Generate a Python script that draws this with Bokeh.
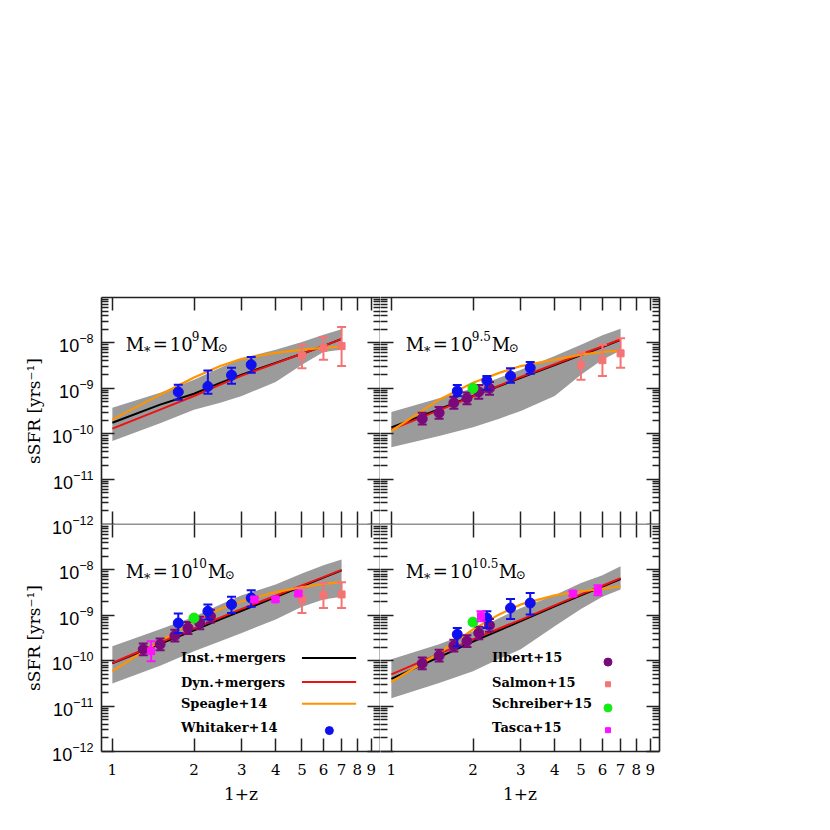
from bokeh.plotting import figure
from bokeh.layouts import gridplot
from bokeh.models import LogAxis, FixedTicker, Label, PrintfTickFormatter, LogTickFormatter
from bokeh.embed import file_html
from bokeh.resources import INLINE

# ---------------- data (log10 sSFR [yr^-1]) ----------------
x_ticks = [1, 2, 3, 4, 5, 6, 7, 8, 9]
x_tick_labels = ["1", "2", "3", "4", "5", "6", "7", "8", "9"]
y_ticks = [1e-12, 1e-11, 1e-10, 1e-9, 1e-8]

x_model = [1.0, 1.5, 2.0, 2.5, 3.0, 4.0, 5.0, 6.0, 7.0]

m9_band_lo = [-10.16, -9.77, -9.47, -9.32, -9.17, -8.86, -8.48, -8.20, -8.15]
m9_band_hi = [-9.43, -9.10, -8.81, -8.55, -8.34, -8.15, -7.98, -7.82, -7.70]
m9_inst = [-9.76, -9.36, -9.12, -8.88, -8.70, -8.44, -8.24, -8.07, -7.91]
m9_dyn = [-9.89, -9.47, -9.17, -8.92, -8.72, -8.45, -8.24, -8.07, -7.91]
m9_speagle = [-9.69, -9.14, -8.76, -8.51, -8.35, -8.22, -8.15, -8.11, -8.08]

m95_band_lo = [-10.30, -10.05, -9.86, -9.67, -9.50, -9.17, -8.70, -8.37, -8.17]
m95_band_hi = [-9.52, -9.22, -9.00, -8.77, -8.59, -8.29, -8.04, -7.83, -7.69]
m95_inst = [-9.86, -9.46, -9.17, -8.95, -8.77, -8.49, -8.27, -8.09, -7.93]
m95_dyn = [-9.91, -9.48, -9.18, -8.94, -8.75, -8.47, -8.25, -8.08, -7.92]
m95_speagle = [-9.94, -9.25, -8.88, -8.66, -8.51, -8.37, -8.26, -8.20, -8.17]

m10_band_lo = [-10.50, -10.11, -9.79, -9.57, -9.39, -9.09, -8.81, -8.65, -8.59]
m10_band_hi = [-9.68, -9.31, -9.03, -8.76, -8.56, -8.32, -8.08, -7.90, -7.77]
m10_inst = [-10.06, -9.63, -9.33, -9.09, -8.90, -8.60, -8.36, -8.17, -8.01]
m10_dyn = [-10.05, -9.60, -9.29, -9.05, -8.86, -8.57, -8.34, -8.16, -8.00]
m10_speagle = [-10.23, -9.57, -9.13, -8.86, -8.69, -8.49, -8.38, -8.31, -8.27]

m105_band_lo = [-10.83, -10.49, -10.23, -9.96, -9.75, -9.24, -8.86, -8.59, -8.43]
m105_band_hi = [-9.97, -9.64, -9.35, -9.06, -8.84, -8.56, -8.29, -8.12, -7.92]
m105_inst = [-10.40, -9.92, -9.58, -9.33, -9.13, -8.80, -8.56, -8.37, -8.20]
m105_dyn = [-10.30, -9.85, -9.53, -9.29, -9.10, -8.78, -8.54, -8.35, -8.18]
m105_speagle = [-10.47, -9.83, -9.31, -8.98, -8.76, -8.56, -8.47, -8.42, -8.36]

# Whitaker+14
whitaker_x = [1.75, 2.25, 2.75, 3.25]
m9_whitaker = [-9.08, -8.96, -8.71, -8.48]
m9_whitaker_lo = [-9.25, -9.12, -8.90, -8.66]
m9_whitaker_hi = [-8.92, -8.61, -8.55, -8.31]
m95_whitaker = [-9.06, -8.83, -8.73, -8.55]
m95_whitaker_lo = [-9.17, -9.03, -8.88, -8.68]
m95_whitaker_hi = [-8.93, -8.73, -8.56, -8.42]
m10_whitaker = [-9.17, -8.91, -8.76, -8.62]
m10_whitaker_lo = [-9.39, -9.09, -8.95, -8.81]
m10_whitaker_hi = [-8.96, -8.76, -8.59, -8.45]
m105_whitaker = [-9.42, -9.06, -8.84, -8.73]
m105_whitaker_lo = [-9.68, -9.28, -9.08, -8.98]
m105_whitaker_hi = [-9.28, -8.91, -8.64, -8.51]

# Salmon+15
salmon_x = [5.0, 6.0, 7.0]
m9_salmon = [-8.28, -8.11, -8.07]
m9_salmon_lo = [-8.56, -8.37, -8.51]
m9_salmon_hi = [-8.04, -7.87, -7.65]
m95_salmon = [-8.49, -8.38, -8.23]
m95_salmon_lo = [-8.81, -8.73, -8.55]
m95_salmon_hi = [-8.20, -8.04, -7.90]
m10_salmon = [-8.65, -8.56, -8.54]
m10_salmon_lo = [-8.95, -8.84, -8.84]
m10_salmon_hi = [-8.40, -8.29, -8.27]

# Ilbert+15
ilbert_x = [1.3, 1.5, 1.7, 1.9, 2.1, 2.3]
m95_ilbert = [-9.67, -9.54, -9.32, -9.22, -9.08, -9.00]
m95_ilbert_err = [0.13, 0.13, 0.13, 0.13, 0.15, 0.14]
m10_ilbert = [-9.75, -9.64, -9.45, -9.28, -9.17, -9.02]
m10_ilbert_err = [0.13, 0.13, 0.13, 0.13, 0.14, 0.14]
m105_ilbert = [-10.06, -9.89, -9.67, -9.57, -9.39, -9.22]
m105_ilbert_err = [0.13, 0.13, 0.13, 0.13, 0.14, 0.14]

# Schreiber+15
schreiber_x = [2.0]
m95_schreiber = [-9.00]
m10_schreiber = [-9.06]
m105_schreiber = [-9.15]

# Tasca+15
m10_tasca_x = [1.39, 3.34, 3.99, 4.85]
m10_tasca = [-9.79, -8.65, -8.65, -8.52]
m10_tasca_err = [0.22, 0.04, 0.04, 0.04]
m105_tasca_x = [2.14, 4.67, 5.78]
m105_tasca = [-9.02, -8.52, -8.45]
m105_tasca_err = [0.11, 0.05, 0.11]

# ---------------- styles ----------------
C_BAND = "#9b9b9b"
C_INST = "#000000"
C_DYN = "#ee1111"
C_SPEAGLE = "#ff9400"
C_WHIT = "#1010ee"
C_ILB = "#7a0a7a"
C_SAL = "#f47474"
C_SCH = "#11ee11"
C_TAS = "#ff11ff"
SERIF = "DejaVu Serif"
SANS = "Liberation Sans"
OVERLAP = 16  # px the lower row is pulled up so the shared 10^-12 label is not cut


def lin(v):
    return [10.0 ** a for a in v]


def style_axis(ax, labeled, is_y, hide_line=False):
    ax.axis_line_color = "#222222"
    ax.axis_line_width = 1.6
    if hide_line:
        ax.axis_line_alpha = 0
    ax.major_tick_line_color = "#222222"
    ax.major_tick_line_width = 1.5
    ax.minor_tick_line_color = "#222222"
    ax.minor_tick_line_width = 1.3
    ax.major_tick_in = 13
    ax.major_tick_out = 0
    ax.minor_tick_in = 7 if is_y else 0
    ax.minor_tick_out = 0
    if labeled:
        ax.major_label_text_color = "black"
        if is_y:
            ax.major_label_text_font = SANS
            ax.major_label_text_font_size = "18px"
            ax.major_label_standoff = 8
        else:
            ax.major_label_text_font = SERIF
            ax.major_label_text_font_size = "15px"
            ax.major_label_standoff = 12
        ax.axis_label_text_font = SERIF
        ax.axis_label_text_font_size = "17px"
        ax.axis_label_text_font_style = "normal"
        ax.axis_label_text_color = "black"
    else:
        ax.major_label_text_font_size = "0px"
        ax.major_label_standoff = 0
        ax.axis_label = None


def make_x_axis(labeled, hide_line=False):
    ax = LogAxis(ticker=FixedTicker(ticks=x_ticks, minor_ticks=[]),
                 formatter=PrintfTickFormatter(format="%d"))
    if labeled:
        ax.major_label_overrides = {t: s for t, s in zip(x_ticks, x_tick_labels)}
    style_axis(ax, labeled, False, hide_line)
    return ax


def make_y_axis(labeled, hide_line=False):
    minor = [m * t for t in y_ticks for m in (2, 3, 4, 5, 6, 7, 8, 9)]
    fmt = LogTickFormatter() if labeled else PrintfTickFormatter(format="%d")
    ax = LogAxis(ticker=FixedTicker(ticks=y_ticks, minor_ticks=minor), formatter=fmt)
    style_axis(ax, labeled, True, hide_line)
    return ax


def errbar(p, x, y, lo, hi, color, cap=9):
    p.segment(x0=x, y0=lin(lo), x1=x, y1=lin(hi), line_color=color, line_width=2)
    p.scatter(x, lin(lo), marker="dash", size=cap, line_color=color, line_width=2)
    p.scatter(x, lin(hi), marker="dash", size=cap, line_color=color, line_width=2)


def title(p, x0, expo):
    y0 = 10 ** -8.03
    sup_w = {"9": 8, "9.5": 19, "10": 15, "10.5": 26}[expo]
    pieces = [
        ("M", 0, 0, 18),
        ("\u2217", 17, -4, 13),
        ("=", 27, 0, 18),
        ("10", 44, 0, 18),
        (expo, 66, 8, 12),
        ("M", 67 + sup_w, 0, 18),
        ("\u2299", 84 + sup_w, -4, 12),
    ]
    for txt, dx, dy, fs in pieces:
        p.add_layout(Label(x=x0, y=y0, x_offset=dx, y_offset=dy, text=txt,
                           text_font=SERIF, text_font_size=f"{fs}px",
                           text_color="black", text_baseline="alphabetic",
                           text_align="left"))


def panel(col, row, band_lo, band_hi, inst, dyn, speagle, whit, whit_lo, whit_hi,
          expo, salmon=None, ilbert=None, schreiber=None, tasca=None):
    kw = dict(x_axis_type="log", y_axis_type="log", x_axis_location=None, y_axis_location=None,
              x_range=(0.912, 9.74), y_range=(0.999e-12, 1.0e-7),
              frame_width=279, frame_height=227, output_backend="svg",
              toolbar_location=None, min_border=0)
    if col == 0:
        kw["min_border_left"] = 101
    else:
        kw["min_border_right"] = 140
    if row == 0:
        kw["min_border_top"] = 297
        kw["min_border_bottom"] = OVERLAP
    else:
        kw["min_border_bottom"] = 55
        kw["styles"] = {"position": "relative", "top": f"-{OVERLAP}px"}
    p = figure(**kw)
    p.outline_line_color = None
    p.background_fill_color = "white"
    p.border_fill_color = "white" if row == 0 else None
    p.xgrid.grid_line_color = None
    p.ygrid.grid_line_color = None

    yl = make_y_axis(col == 0, hide_line=(col == 1))
    if col == 0:
        yl.axis_label = "sSFR [yrs\u207b\u00b9]"
    p.add_layout(yl, "left")
    p.add_layout(make_y_axis(False), "right")
    xb = make_x_axis(row == 1)
    if row == 1:
        xb.axis_label = "1+z"
        xb.axis_label_standoff = 6
    p.add_layout(xb, "below")
    p.add_layout(make_x_axis(False, hide_line=(row == 1)), "above")

    p.varea(x=x_model, y1=lin(band_lo), y2=lin(band_hi), fill_color=C_BAND, fill_alpha=1.0)
    p.line(x_model, lin(inst), line_color=C_INST, line_width=2)
    p.line(x_model, lin(dyn), line_color=C_DYN, line_width=2)
    p.line(x_model, lin(speagle), line_color=C_SPEAGLE, line_width=2.2)

    if ilbert is not None:
        v, e = ilbert
        errbar(p, ilbert_x, v, [a - b for a, b in zip(v, e)], [a + b for a, b in zip(v, e)], C_ILB)
        p.scatter(ilbert_x, lin(v), marker="circle", size=10, fill_color=C_ILB, line_color=C_ILB)
    errbar(p, whitaker_x, whit, whit_lo, whit_hi, C_WHIT)
    p.scatter(whitaker_x, lin(whit), marker="circle", size=10, fill_color=C_WHIT, line_color=C_WHIT)
    if salmon is not None:
        v, lo, hi = salmon
        errbar(p, salmon_x, v, lo, hi, C_SAL)
        p.scatter(salmon_x, lin(v), marker="square", size=7, fill_color=C_SAL, line_color=C_SAL)
    if schreiber is not None:
        p.scatter(schreiber_x, lin(schreiber), marker="circle", size=10, fill_color=C_SCH, line_color=C_SCH)
    if tasca is not None:
        tx, v, e = tasca
        errbar(p, tx, v, [a - b for a, b in zip(v, e)], [a + b for a, b in zip(v, e)], C_TAS)
        p.scatter(tx, lin(v), marker="square", size=7, fill_color=C_TAS, line_color=C_TAS)

    title(p, 1.12 if col == 0 else 1.13, expo)
    return p


p1 = panel(0, 0, m9_band_lo, m9_band_hi, m9_inst, m9_dyn, m9_speagle,
           m9_whitaker, m9_whitaker_lo, m9_whitaker_hi, "9",
           salmon=(m9_salmon, m9_salmon_lo, m9_salmon_hi))
p2 = panel(1, 0, m95_band_lo, m95_band_hi, m95_inst, m95_dyn, m95_speagle,
           m95_whitaker, m95_whitaker_lo, m95_whitaker_hi, "9.5",
           salmon=(m95_salmon, m95_salmon_lo, m95_salmon_hi),
           ilbert=(m95_ilbert, m95_ilbert_err), schreiber=m95_schreiber)
p3 = panel(0, 1, m10_band_lo, m10_band_hi, m10_inst, m10_dyn, m10_speagle,
           m10_whitaker, m10_whitaker_lo, m10_whitaker_hi, "10",
           salmon=(m10_salmon, m10_salmon_lo, m10_salmon_hi),
           ilbert=(m10_ilbert, m10_ilbert_err), schreiber=m10_schreiber,
           tasca=(m10_tasca_x, m10_tasca, m10_tasca_err))
p4 = panel(1, 1, m105_band_lo, m105_band_hi, m105_inst, m105_dyn, m105_speagle,
           m105_whitaker, m105_whitaker_lo, m105_whitaker_hi, "10.5",
           ilbert=(m105_ilbert, m105_ilbert_err), schreiber=m105_schreiber,
           tasca=(m105_tasca_x, m105_tasca, m105_tasca_err))

# ---------------- legends (text on the left, key on the right) ----------------
leg_rows = [10 ** -9.94, 10 ** -10.47, 10 ** -10.95, 10 ** -11.47]
left_names = ["Inst.+mergers", "Dyn.+mergers", "Speagle+14", "Whitaker+14"]
right_names = ["Ilbert+15", "Salmon+15", "Schreiber+15", "Tasca+15"]


def leg_text(p, x, y, txt):
    p.add_layout(Label(x=x, y=y, text=txt, text_font=SERIF, text_font_size="13px",
                       text_font_style="bold", text_color="black",
                       text_baseline="middle", text_align="left"))


for y, name in zip(leg_rows, left_names):
    leg_text(p3, 1.79, y, name)
for y, c in zip(leg_rows[:3], [C_INST, C_DYN, C_SPEAGLE]):
    p3.line([5.0, 7.92], [y, y], line_color=c, line_width=2)
p3.scatter([6.31], [10 ** -11.54], marker="circle", size=8, fill_color=C_WHIT, line_color=C_WHIT)

for y, name in zip(leg_rows, right_names):
    leg_text(p4, 2.35, y, name)
p4.scatter([6.29], [10 ** -10.03], marker="circle", size=8, fill_color=C_ILB, line_color=C_ILB)
p4.scatter([6.29], [10 ** -10.52], marker="square", size=5, fill_color=C_SAL, line_color=C_SAL)
p4.scatter([6.29], [10 ** -11.04], marker="circle", size=8, fill_color=C_SCH, line_color=C_SCH)
p4.scatter([6.29], [10 ** -11.53], marker="square", size=5, fill_color=C_TAS, line_color=C_TAS)

grid = gridplot([[p1, p2], [p3, p4]], toolbar_location=None)

open("out.html", "w").write(file_html(grid, INLINE))
